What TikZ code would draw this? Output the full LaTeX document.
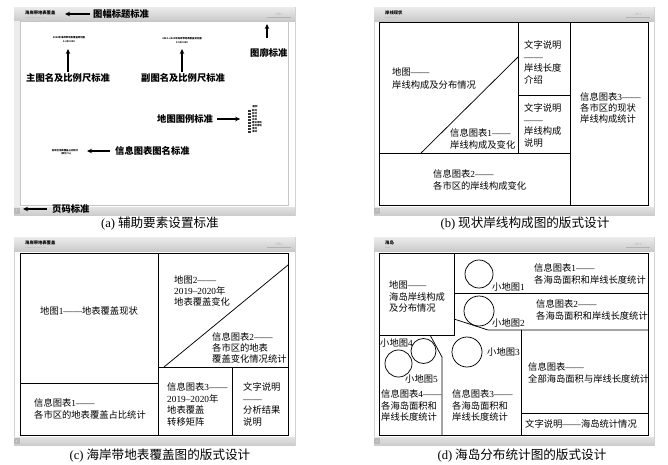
\documentclass[tikz,border=0pt]{standalone}
\usepackage{fontspec}
\setmainfont{Liberation Serif}
\newfontfamily\cjk{Noto Sans CJK SC}
\usetikzlibrary{arrows.meta}
\newcommand{\dg}[1]{{\rmfamily #1}}
\newcommand{\dsh}{{\rmfamily ——}}
\newcommand{\pframe}[3]{%
  \fill[white] (#1,#2) rectangle (#3,{#2+208});
  \draw[gray!35, line width=0.4pt] (#1,#2) rectangle (#3,{#2+208});
  \shade[top color=gray!15, bottom color=gray!42] (#1,#2) rectangle (#3,{#2+14});
  \shade[top color=gray!22, bottom color=gray!40] (#1,{#2+200}) rectangle (#3,{#2+208});
  \fill[gray!55] (#1,{#2+201}) rectangle ({#1+6},{#2+207});
  \node[inner sep=0pt, font=\fontsize{3}{3}\selectfont, text=white] at ({#1+3},{#2+204}) {1};
  \draw[gray!60, line width=0.4pt] ({#3-28},{#2+10}) -- ({#3-4},{#2+10});
  \node[inner sep=0pt, font=\fontsize{4}{4}\selectfont\itshape, text=gray!60] at ({#3-16},{#2+7.5}) {.ılıl.ı.};
}
\begin{document}
\begin{tikzpicture}[x=1pt,y=-1pt,
  txt/.style={font=\cjk\fontsize{9.3}{11.5}\selectfont, align=left, inner sep=0pt, anchor=north west},
  one/.style={font=\cjk\fontsize{9.3}{11.5}\selectfont, inner sep=0pt, anchor=west},
  bl/.style={font=\cjk\bfseries\fontsize{9.3}{11.5}\selectfont, inner sep=0pt, anchor=west},
  captxt/.style={font=\cjk\fontsize{12.6}{14}\selectfont, inner sep=0pt},
  ln/.style={line width=0.75pt, black},
  arr/.style={line width=1.2pt, -{Stealth[length=5pt,width=4.5pt]}},
  tiny/.style={inner sep=0pt, font=\cjk\bfseries\fontsize{2.4}{2.8}\selectfont},
  hdr/.style={inner sep=0pt, anchor=west, font=\cjk\bfseries\fontsize{4.3}{5}\selectfont},
  sub/.style={inner sep=0pt, anchor=west, font=\fontsize{2}{2}\selectfont, text=gray!70}]
\useasboundingbox (0,0) rectangle (668,464);
\fill[white] (0,0) rectangle (668,464);

% ================= (a) =================
\pframe{14}{7}{295}
\fill[gray!15] (14,21) rectangle (20,207);
\draw[gray!45, line width=0.6pt, fill=white] (20,21) rectangle (288,205);
\node[hdr] (ahd) at (25,13) {海岸带地表覆盖};
\node[sub] (ahs) at (25,18) {Coastal Zone Land Cover};
\node[tiny] (amt) at (69,38) {2020年海岸带地表覆盖现状图};
\node[tiny] (ams) at (69,42) {1:250 000};
\node[tiny] (ast) at (182,39) {2019–2020年海岸带地表覆盖变化图};
\node[tiny] (ass) at (182,43) {1:500 000};
\node[tiny] (alg) at (255,107) {图例};
\foreach \yy/\tt in {111/耕地,114/林地,117/草地,120/水体,123/建设用地,126/未利用地,129/湿地,132/海域}{
  \fill[black!80] (248,{\yy-1}) rectangle (251,{\yy+1});
  \node[tiny, anchor=west] at (252,\yy) {\tt};
}
\node[tiny] (ait) at (65,151) {各市区地表覆盖占比统计};
\node[tiny] (ai2) at (66,154) {(单位:\%)};
\node[bl] (la1) at (93,14) {图幅标题标准};
\node[bl] (la2) at (250,53) {图廓标准};
\node[bl] (la3) at (26,78) {主图名及比例尺标准};
\node[bl] (la4) at (141,78) {副图名及比例尺标准};
\node[bl] (la5) at (157,119) {地图图例标准};
\node[bl] (la6) at (115,151) {信息图表图名标准};
\node[bl] (la7) at (52,209) {页码标准};
\draw[arr] ([xshift=-3pt]la1.west) -- ++(-25,0);
\draw[arr] (267,38) -- (267,24);
\draw[arr] (68,72) -- (68,49);
\draw[arr] (182,72) -- (182,49);
\draw[arr] ([xshift=4pt]la5.east) -- ++(23,0);
\draw[arr] ([xshift=-5pt]la6.west) -- ++(-23,0);
\draw[arr] ([xshift=-5pt]la7.west) -- ++(-24,0);
\node[captxt] (capa) at (160,224) {\dg{(a)} 辅助要素设置标准};

% ================= (b) =================
\pframe{374}{7}{654}
\node[hdr] (bhd) at (385,13) {岸线现状};
\node[sub] (bhs) at (385,18) {Coastline status};
\draw[ln] (379,22) rectangle (648,205);
\draw[ln] (518,22) -- (518,153);
\draw[ln] (570,22) -- (570,205);
\draw[ln] (379,153) -- (570,153);
\draw[ln] (518,95) -- (570,95);
\draw[ln] (421,153) -- (518,57);
\node[txt, font=\cjk\fontsize{9.3}{13}\selectfont] (b1) at (392,67.7) {地图\dsh\\岸线构成及分布情况};
\node[txt] (b2) at (524,40.7) {文字说明\\\dsh\\岸线长度\\介绍};
\node[txt] (b3) at (524,103.7) {文字说明\\\dsh\\岸线构成\\说明};
\node[txt] (b4) at (450,128.7) {信息图表\dg{1}\dsh\\岸线构成及变化};
\node[txt] (b5) at (433,169.7) {信息图表\dg{2}\dsh\\各市区的岸线构成变化};
\node[txt, font=\cjk\fontsize{9.3}{10.8}\selectfont] (b6) at (580,92.7) {信息图表\dg{3}\dsh\\各市区的现状\\岸线构成统计};
\node[captxt] (capb) at (525,224) {\dg{(b)} 现状岸线构成图的版式设计};

% ================= (c) =================
\pframe{14}{237}{295}
\node[hdr] (chd) at (25,243) {海岸带地表覆盖};
\node[sub] (chs) at (25,248) {Coastal Zone Land Cover};
\draw[ln] (20,253) rectangle (288,435);
\draw[ln] (158,253) -- (158,435);
\draw[ln] (20,383) -- (158,383);
\draw[ln] (158,367) -- (288,367);
\draw[ln] (232,367) -- (232,435);
\draw[ln] (164,367) -- (288,265);
\node[one] (c1) at (40,311) {地图\dg{1}\dsh 地表覆盖现状};
\node[txt, font=\cjk\fontsize{9.3}{11}\selectfont] (c2) at (174,275.7) {地图\dg{2}\dsh\\\dg{2019–2020}年\\地表覆盖变化};
\node[txt, font=\cjk\fontsize{9.3}{11}\selectfont] (c3) at (212,332.7) {信息图表\dg{2}\dsh\\各市区的地表\\覆盖变化情况统计};
\node[txt] (c4) at (34,398.7) {信息图表\dg{1}\dsh\\各市区的地表覆盖占比统计};
\node[txt] (c5) at (167,382.7) {信息图表\dg{3}\dsh\\\dg{2019–2020}年\\地表覆盖\\转移矩阵};
\node[txt] (c6) at (243,382.7) {文字说明\\\dsh\\分析结果\\说明};
\node[captxt] (capc) at (160,456) {\dg{(c)} 海岸带地表覆盖图的版式设计};

% ================= (d) =================
\pframe{374}{237}{654}
\node[hdr] (dhd) at (385,243) {海岛};
\node[sub] (dhs) at (385,248) {Island};
\draw[ln] (379,253) rectangle (648,435);
\draw[ln] (454,253) -- (454,335) -- (379,335);
\draw[ln] (454,293) -- (648,293);
\draw[ln] (454,319) -- (488,330) -- (648,330);
\draw[ln] (521,330) -- (521,435);
\draw[ln] (521,413) -- (648,413);
\draw[ln] (430,335) -- (442,357) -- (442,435);
\draw[ln] (479,274) circle (14);
\draw[ln] (479,311) circle (15);
\draw[ln] (467,352) circle (15);
\draw[ln] (423.5,351) circle (12.5);
\draw[ln] (398.5,363.5) circle (13.5);
\node[one] (dm1) at (492,287) {小地图\dg{1}};
\node[one] (dm2) at (492,323) {小地图\dg{2}};
\node[one] (dm3) at (487,352) {小地图\dg{3}};
\node[one] (dm4) at (380,343) {小地图\dg{4}};
\node[one] (dm5) at (405,379) {小地图\dg{5}};
\node[txt] (d1) at (389,280.7) {地图\dsh\\海岛岸线构成\\及分布情况};
\node[txt] (d2) at (534,263.7) {信息图表\dg{1}\dsh\\各海岛面积和岸线长度统计};
\node[txt] (d3) at (536,299.7) {信息图表\dg{2}\dsh\\各海岛面积和岸线长度统计};
\node[txt] (d4) at (528,362.7) {信息图表\dsh\\全部海岛面积与岸线长度统计};
\node[one] (d5) at (525,424) {文字说明\dsh 海岛统计情况};
\node[txt] (d6) at (452,389.7) {信息图表\dg{3}\dsh\\各海岛面积和\\岸线长度统计};
\node[txt] (d7) at (381,389.7) {信息图表\dg{4}\dsh\\各海岛面积和\\岸线长度统计};
\node[captxt] (capd) at (522,456) {\dg{(d)} 海岛分布统计图的版式设计};
\end{tikzpicture}
\end{document}
